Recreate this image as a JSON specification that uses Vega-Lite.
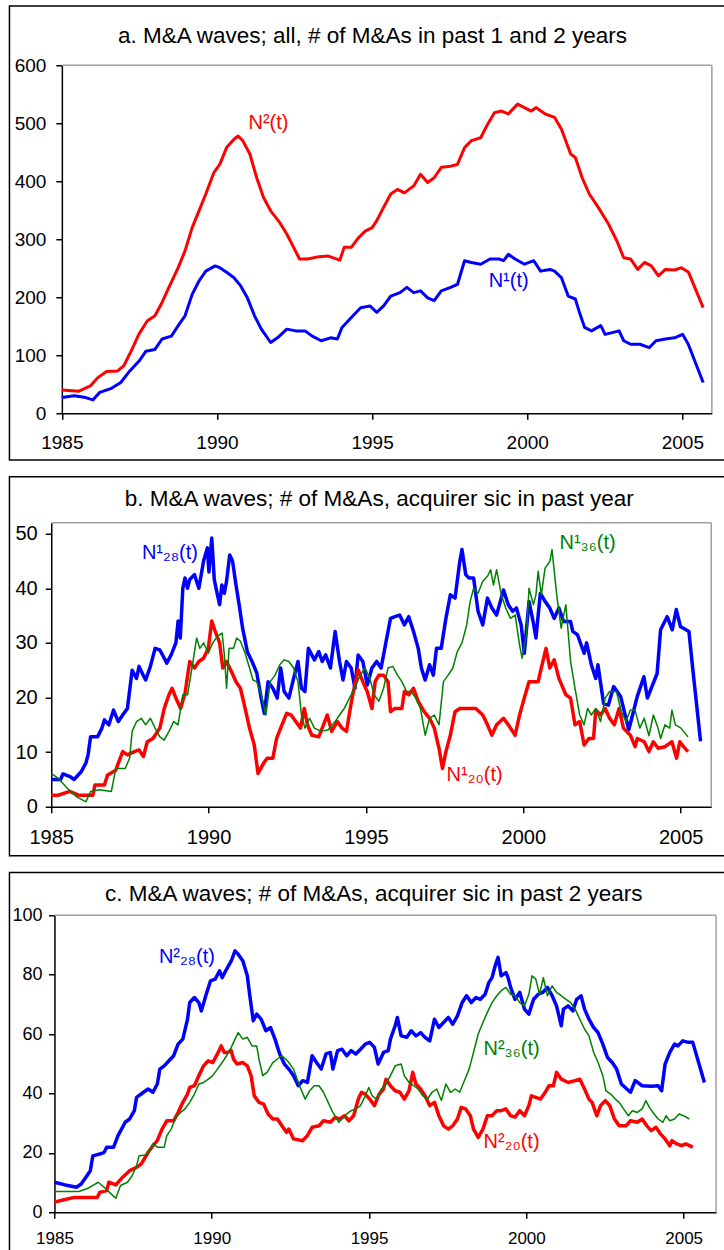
{
 "$schema": "https://vega.github.io/schema/vega-lite/v6.json",
 "padding": {"left": 8.25, "top": 4.25, "right": 0, "bottom": 0},
 "background": "white",
 "columns": 1,
 "align": "none",
 "spacing": 14.5,
 "config": {
  "font": "Liberation Sans",
  "view": {"stroke": null},
  "axis": {"grid": false, "domainColor": "#000", "domainWidth": 1.5, "tickColor": "#000", "tickWidth": 1.5, "tickSize": 6, "labelColor": "#000", "labelFont": "Liberation Sans", "labelFlush": false},
  "title": {"font": "Liberation Sans", "fontSize": 22.5, "fontWeight": "normal", "color": "#000"},
  "line": {"strokeJoin": "round"},
  "rule": {"color": "#a0a0a0", "strokeWidth": 1.5},
  "text": {"font": "Liberation Sans", "fontSize": 20, "align": "center", "baseline": "middle"}
 },
 "datasets": {
  "a_n2": [{"t":1985.0,"v":40},{"t":1985.55,"v":38},{"t":1985.92,"v":47},{"t":1986.15,"v":61},{"t":1986.44,"v":72},{"t":1986.8,"v":73},{"t":1987.0,"v":82},{"t":1987.26,"v":110},{"t":1987.48,"v":136},{"t":1987.75,"v":159},{"t":1988.0,"v":168},{"t":1988.23,"v":191},{"t":1988.45,"v":217},{"t":1988.75,"v":251},{"t":1988.97,"v":280},{"t":1989.2,"v":320},{"t":1989.42,"v":349},{"t":1989.64,"v":378},{"t":1989.9,"v":415},{"t":1990.09,"v":429},{"t":1990.31,"v":458},{"t":1990.54,"v":472},{"t":1990.68,"v":478},{"t":1990.83,"v":470},{"t":1991.06,"v":447},{"t":1991.28,"v":406},{"t":1991.5,"v":372},{"t":1991.73,"v":349},{"t":1992.02,"v":329},{"t":1992.25,"v":309},{"t":1992.47,"v":286},{"t":1992.66,"v":266},{"t":1992.92,"v":266},{"t":1993.29,"v":270},{"t":1993.59,"v":271},{"t":1993.96,"v":264},{"t":1994.1,"v":286},{"t":1994.33,"v":286},{"t":1994.55,"v":302},{"t":1994.78,"v":314},{"t":1995.0,"v":320},{"t":1995.15,"v":332},{"t":1995.37,"v":355},{"t":1995.6,"v":378},{"t":1995.82,"v":386},{"t":1996.04,"v":380},{"t":1996.34,"v":392},{"t":1996.56,"v":412},{"t":1996.79,"v":398},{"t":1997.0,"v":406},{"t":1997.23,"v":424},{"t":1997.53,"v":426},{"t":1997.75,"v":429},{"t":1997.98,"v":458},{"t":1998.2,"v":470},{"t":1998.5,"v":475},{"t":1998.72,"v":498},{"t":1998.94,"v":518},{"t":1999.17,"v":521},{"t":1999.39,"v":516},{"t":1999.69,"v":533},{"t":1999.91,"v":527},{"t":2000.13,"v":521},{"t":2000.28,"v":527},{"t":2000.58,"v":516},{"t":2000.88,"v":510},{"t":2001.1,"v":490},{"t":2001.4,"v":447},{"t":2001.55,"v":441},{"t":2001.77,"v":406},{"t":2002.0,"v":378},{"t":2002.29,"v":355},{"t":2002.59,"v":329},{"t":2002.89,"v":297},{"t":2003.11,"v":268},{"t":2003.33,"v":266},{"t":2003.56,"v":248},{"t":2003.78,"v":260},{"t":2004.0,"v":254},{"t":2004.23,"v":237},{"t":2004.45,"v":248},{"t":2004.75,"v":247},{"t":2004.97,"v":251},{"t":2005.2,"v":243},{"t":2005.67,"v":182}],
  "a_n1": [{"t":1985.0,"v":27},{"t":1985.4,"v":30},{"t":1985.77,"v":27},{"t":1986.0,"v":23},{"t":1986.22,"v":36},{"t":1986.6,"v":43},{"t":1986.9,"v":53},{"t":1987.19,"v":73},{"t":1987.49,"v":90},{"t":1987.71,"v":107},{"t":1988.0,"v":110},{"t":1988.23,"v":128},{"t":1988.53,"v":133},{"t":1988.75,"v":151},{"t":1988.97,"v":168},{"t":1989.2,"v":205},{"t":1989.42,"v":228},{"t":1989.64,"v":245},{"t":1989.94,"v":254},{"t":1990.09,"v":251},{"t":1990.31,"v":243},{"t":1990.54,"v":234},{"t":1990.76,"v":220},{"t":1990.98,"v":199},{"t":1991.21,"v":168},{"t":1991.43,"v":145},{"t":1991.73,"v":122},{"t":1991.95,"v":130},{"t":1992.25,"v":145},{"t":1992.54,"v":142},{"t":1992.84,"v":142},{"t":1993.07,"v":133},{"t":1993.36,"v":125},{"t":1993.66,"v":130},{"t":1993.88,"v":128},{"t":1994.03,"v":148},{"t":1994.33,"v":165},{"t":1994.63,"v":182},{"t":1994.93,"v":185},{"t":1995.15,"v":174},{"t":1995.37,"v":185},{"t":1995.6,"v":202},{"t":1995.9,"v":208},{"t":1996.12,"v":217},{"t":1996.34,"v":208},{"t":1996.56,"v":211},{"t":1996.79,"v":199},{"t":1997.0,"v":194},{"t":1997.23,"v":211},{"t":1997.53,"v":217},{"t":1997.75,"v":222},{"t":1997.98,"v":263},{"t":1998.2,"v":260},{"t":1998.5,"v":257},{"t":1998.8,"v":266},{"t":1999.09,"v":266},{"t":1999.24,"v":263},{"t":1999.39,"v":274},{"t":1999.61,"v":266},{"t":1999.91,"v":257},{"t":2000.21,"v":263},{"t":2000.43,"v":245},{"t":2000.73,"v":248},{"t":2000.88,"v":245},{"t":2001.1,"v":234},{"t":2001.32,"v":202},{"t":2001.55,"v":197},{"t":2001.7,"v":171},{"t":2001.85,"v":148},{"t":2002.07,"v":142},{"t":2002.37,"v":151},{"t":2002.51,"v":136},{"t":2002.74,"v":139},{"t":2002.96,"v":142},{"t":2003.11,"v":125},{"t":2003.33,"v":119},{"t":2003.63,"v":119},{"t":2003.93,"v":113},{"t":2004.15,"v":125},{"t":2004.45,"v":128},{"t":2004.75,"v":130},{"t":2005.01,"v":136},{"t":2005.19,"v":119},{"t":2005.67,"v":53}],
  "b_28": [{"t":1985.0,"v":5},{"t":1985.3,"v":5},{"t":1985.37,"v":6},{"t":1985.6,"v":5.5},{"t":1985.73,"v":5},{"t":1985.95,"v":6.4},{"t":1986.1,"v":8},{"t":1986.17,"v":9.5},{"t":1986.25,"v":12.8},{"t":1986.47,"v":12.8},{"t":1986.61,"v":14.4},{"t":1986.69,"v":15.9},{"t":1986.83,"v":15},{"t":1986.98,"v":17.7},{"t":1987.13,"v":15.6},{"t":1987.27,"v":16.8},{"t":1987.42,"v":18},{"t":1987.57,"v":25},{"t":1987.71,"v":23.5},{"t":1987.79,"v":25.7},{"t":1987.93,"v":24},{"t":1988.0,"v":23.2},{"t":1988.15,"v":25.7},{"t":1988.3,"v":29},{"t":1988.45,"v":28.7},{"t":1988.59,"v":27.2},{"t":1988.67,"v":26.3},{"t":1988.81,"v":27.8},{"t":1988.96,"v":30},{"t":1989.03,"v":34},{"t":1989.1,"v":30.9},{"t":1989.18,"v":40},{"t":1989.25,"v":41.9},{"t":1989.33,"v":40},{"t":1989.4,"v":41.6},{"t":1989.55,"v":42.5},{"t":1989.69,"v":40},{"t":1989.84,"v":45},{"t":1989.96,"v":47.4},{"t":1990.01,"v":43},{"t":1990.1,"v":49.2},{"t":1990.18,"v":41.6},{"t":1990.28,"v":38.8},{"t":1990.35,"v":37},{"t":1990.42,"v":40.6},{"t":1990.5,"v":39.1},{"t":1990.57,"v":41.3},{"t":1990.67,"v":46.1},{"t":1990.76,"v":45},{"t":1990.87,"v":40.6},{"t":1990.97,"v":37},{"t":1991.08,"v":32.7},{"t":1991.23,"v":28.4},{"t":1991.38,"v":26.6},{"t":1991.53,"v":24.5},{"t":1991.67,"v":19.9},{"t":1991.77,"v":17.1},{"t":1991.89,"v":22.9},{"t":1992.04,"v":21.7},{"t":1992.18,"v":19.9},{"t":1992.29,"v":25.4},{"t":1992.4,"v":21.1},{"t":1992.55,"v":19.9},{"t":1992.7,"v":23.5},{"t":1992.84,"v":26.6},{"t":1992.95,"v":21.7},{"t":1993.06,"v":21.1},{"t":1993.17,"v":29},{"t":1993.36,"v":26.9},{"t":1993.5,"v":28.4},{"t":1993.61,"v":26.6},{"t":1993.72,"v":27.8},{"t":1993.87,"v":25.4},{"t":1994.02,"v":32.1},{"t":1994.16,"v":26.6},{"t":1994.27,"v":23.2},{"t":1994.38,"v":26.6},{"t":1994.53,"v":25.4},{"t":1994.65,"v":21.7},{"t":1994.75,"v":27.8},{"t":1994.9,"v":26.6},{"t":1995.04,"v":22.3},{"t":1995.19,"v":25.4},{"t":1995.34,"v":26.6},{"t":1995.48,"v":25.4},{"t":1995.63,"v":30},{"t":1995.78,"v":34.5},{"t":1995.92,"v":34.8},{"t":1996.07,"v":35.1},{"t":1996.22,"v":33.3},{"t":1996.36,"v":34.8},{"t":1996.51,"v":32.1},{"t":1996.66,"v":29},{"t":1996.76,"v":25.4},{"t":1996.88,"v":23.2},{"t":1997.02,"v":26},{"t":1997.14,"v":24.1},{"t":1997.24,"v":29},{"t":1997.39,"v":29},{"t":1997.54,"v":34.5},{"t":1997.68,"v":38.8},{"t":1997.83,"v":38.2},{"t":1997.98,"v":44.9},{"t":1998.05,"v":47.1},{"t":1998.17,"v":42.5},{"t":1998.27,"v":41.9},{"t":1998.42,"v":41.9},{"t":1998.56,"v":35.8},{"t":1998.71,"v":33.3},{"t":1998.86,"v":38.2},{"t":1999.0,"v":36.4},{"t":1999.15,"v":35.1},{"t":1999.37,"v":39.7},{"t":1999.52,"v":37},{"t":1999.66,"v":35.8},{"t":1999.78,"v":36.4},{"t":1999.93,"v":33.3},{"t":2000.03,"v":28.1},{"t":2000.18,"v":37.6},{"t":2000.32,"v":33.6},{"t":2000.4,"v":30.9},{"t":2000.54,"v":39.1},{"t":2000.69,"v":37.6},{"t":2000.84,"v":36.4},{"t":2000.98,"v":34.5},{"t":2001.13,"v":36.4},{"t":2001.28,"v":33.9},{"t":2001.5,"v":33.9},{"t":2001.57,"v":32.1},{"t":2001.72,"v":31.5},{"t":2001.93,"v":28.1},{"t":2002.01,"v":30},{"t":2002.16,"v":26},{"t":2002.3,"v":23.5},{"t":2002.37,"v":26},{"t":2002.55,"v":18.9},{"t":2002.7,"v":18.6},{"t":2002.87,"v":22},{"t":2003.09,"v":20.2},{"t":2003.35,"v":14.1},{"t":2003.62,"v":20.2},{"t":2003.83,"v":23.8},{"t":2003.94,"v":19.9},{"t":2004.25,"v":24.4},{"t":2004.36,"v":32.4},{"t":2004.57,"v":34.8},{"t":2004.73,"v":32.4},{"t":2004.86,"v":36.1},{"t":2004.99,"v":33},{"t":2005.26,"v":32.1},{"t":2005.38,"v":25.4},{"t":2005.63,"v":12}],
  "b_20": [{"t":1985.0,"v":2.1},{"t":1985.22,"v":2.1},{"t":1985.59,"v":2.8},{"t":1985.88,"v":2.1},{"t":1986.32,"v":2.1},{"t":1986.39,"v":4},{"t":1986.69,"v":4},{"t":1986.79,"v":5.8},{"t":1987.05,"v":6.7},{"t":1987.17,"v":8.6},{"t":1987.27,"v":10.1},{"t":1987.42,"v":9.5},{"t":1987.64,"v":10.1},{"t":1987.79,"v":10.4},{"t":1987.93,"v":9.2},{"t":1988.05,"v":11.9},{"t":1988.23,"v":12.5},{"t":1988.45,"v":14.4},{"t":1988.59,"v":18},{"t":1988.74,"v":20.5},{"t":1988.84,"v":21.7},{"t":1988.96,"v":19.9},{"t":1989.11,"v":18},{"t":1989.25,"v":20.8},{"t":1989.4,"v":26.6},{"t":1989.55,"v":25.4},{"t":1989.69,"v":26.6},{"t":1989.84,"v":27.2},{"t":1989.99,"v":29},{"t":1990.1,"v":34},{"t":1990.21,"v":32.1},{"t":1990.35,"v":30},{"t":1990.45,"v":25.4},{"t":1990.57,"v":26.6},{"t":1990.72,"v":24.8},{"t":1990.87,"v":22.9},{"t":1991.01,"v":21.7},{"t":1991.16,"v":18},{"t":1991.3,"v":14.4},{"t":1991.45,"v":11.3},{"t":1991.57,"v":6.1},{"t":1991.74,"v":7.9},{"t":1991.86,"v":8.9},{"t":1992.04,"v":8.9},{"t":1992.16,"v":12.5},{"t":1992.33,"v":15},{"t":1992.48,"v":17.1},{"t":1992.62,"v":16.8},{"t":1992.77,"v":15.6},{"t":1992.92,"v":14.4},{"t":1993.04,"v":18},{"t":1993.14,"v":15},{"t":1993.28,"v":13.1},{"t":1993.5,"v":12.8},{"t":1993.65,"v":15},{"t":1993.77,"v":16.8},{"t":1993.91,"v":13.8},{"t":1994.09,"v":15.6},{"t":1994.24,"v":14.4},{"t":1994.38,"v":13.8},{"t":1994.5,"v":18},{"t":1994.6,"v":21.1},{"t":1994.75,"v":25.1},{"t":1994.9,"v":22.9},{"t":1995.04,"v":21.1},{"t":1995.19,"v":18},{"t":1995.29,"v":22.9},{"t":1995.41,"v":24.1},{"t":1995.56,"v":24.1},{"t":1995.7,"v":22.9},{"t":1995.78,"v":17.4},{"t":1995.92,"v":18},{"t":1996.14,"v":18},{"t":1996.22,"v":21.1},{"t":1996.36,"v":20.5},{"t":1996.51,"v":21.7},{"t":1996.66,"v":19.3},{"t":1996.85,"v":17.4},{"t":1997.02,"v":16.2},{"t":1997.17,"v":14.4},{"t":1997.32,"v":10.7},{"t":1997.43,"v":7},{"t":1997.54,"v":10.1},{"t":1997.68,"v":13.1},{"t":1997.83,"v":17.4},{"t":1997.98,"v":18},{"t":1998.49,"v":18},{"t":1998.71,"v":16.8},{"t":1998.86,"v":15},{"t":1999.0,"v":13.1},{"t":1999.15,"v":15},{"t":1999.37,"v":16.2},{"t":1999.52,"v":15},{"t":1999.74,"v":13.1},{"t":1999.88,"v":16.8},{"t":2000.03,"v":19.9},{"t":2000.18,"v":22.9},{"t":2000.47,"v":22.9},{"t":2000.62,"v":26.6},{"t":2000.72,"v":29},{"t":2000.84,"v":25.4},{"t":2000.98,"v":26.9},{"t":2001.13,"v":23.5},{"t":2001.35,"v":20.5},{"t":2001.5,"v":19.9},{"t":2001.64,"v":15},{"t":2001.79,"v":15.6},{"t":2001.93,"v":11.3},{"t":2002.08,"v":12.5},{"t":2002.23,"v":12.5},{"t":2002.3,"v":17.7},{"t":2002.45,"v":16.8},{"t":2002.6,"v":18},{"t":2002.74,"v":16.2},{"t":2002.89,"v":15},{"t":2003.04,"v":18},{"t":2003.18,"v":14.4},{"t":2003.4,"v":13.1},{"t":2003.55,"v":11},{"t":2003.62,"v":12.5},{"t":2003.84,"v":11.9},{"t":2003.99,"v":10.1},{"t":2004.13,"v":11.9},{"t":2004.28,"v":10.7},{"t":2004.5,"v":11},{"t":2004.72,"v":11.9},{"t":2004.87,"v":8.9},{"t":2004.97,"v":11.9},{"t":2005.09,"v":11},{"t":2005.23,"v":10.1}],
  "b_36": [{"t":1985.0,"v":6.1},{"t":1985.22,"v":5.2},{"t":1985.51,"v":3.4},{"t":1985.81,"v":1.8},{"t":1986.1,"v":0.9},{"t":1986.25,"v":2.8},{"t":1986.54,"v":3.1},{"t":1986.91,"v":2.8},{"t":1987.05,"v":7},{"t":1987.35,"v":7},{"t":1987.49,"v":8.9},{"t":1987.57,"v":13.8},{"t":1987.71,"v":15.6},{"t":1987.86,"v":16.2},{"t":1988.0,"v":15},{"t":1988.15,"v":16.2},{"t":1988.3,"v":14.4},{"t":1988.45,"v":12.8},{"t":1988.59,"v":12.2},{"t":1988.74,"v":13.8},{"t":1988.89,"v":15.6},{"t":1989.03,"v":15},{"t":1989.18,"v":20.5},{"t":1989.33,"v":20.5},{"t":1989.47,"v":25.4},{"t":1989.62,"v":30.9},{"t":1989.72,"v":29},{"t":1989.84,"v":30},{"t":1989.99,"v":28.1},{"t":1990.13,"v":30},{"t":1990.28,"v":31.2},{"t":1990.43,"v":31.8},{"t":1990.5,"v":27.8},{"t":1990.57,"v":21.7},{"t":1990.65,"v":29},{"t":1990.79,"v":29},{"t":1990.89,"v":30.9},{"t":1991.01,"v":30.3},{"t":1991.16,"v":28.1},{"t":1991.3,"v":25.4},{"t":1991.41,"v":23.2},{"t":1991.53,"v":22.9},{"t":1991.67,"v":20.5},{"t":1991.82,"v":16.8},{"t":1991.96,"v":22.9},{"t":1992.11,"v":24.1},{"t":1992.26,"v":26},{"t":1992.4,"v":26.9},{"t":1992.55,"v":26.6},{"t":1992.7,"v":25.4},{"t":1992.84,"v":22.9},{"t":1992.95,"v":16.8},{"t":1993.06,"v":14.4},{"t":1993.21,"v":16.2},{"t":1993.36,"v":14.4},{"t":1993.58,"v":13.8},{"t":1993.8,"v":14.1},{"t":1994.02,"v":15.6},{"t":1994.16,"v":16.8},{"t":1994.31,"v":18},{"t":1994.53,"v":20.5},{"t":1994.68,"v":22.3},{"t":1994.82,"v":24.1},{"t":1994.97,"v":25.4},{"t":1995.12,"v":23.5},{"t":1995.26,"v":20.5},{"t":1995.41,"v":19.3},{"t":1995.56,"v":21.7},{"t":1995.7,"v":25.4},{"t":1995.85,"v":25.7},{"t":1996.0,"v":24.1},{"t":1996.14,"v":22.9},{"t":1996.29,"v":21.1},{"t":1996.44,"v":21.1},{"t":1996.58,"v":19.9},{"t":1996.73,"v":18},{"t":1996.88,"v":13.1},{"t":1997.02,"v":16.2},{"t":1997.17,"v":16.8},{"t":1997.32,"v":15},{"t":1997.46,"v":22.9},{"t":1997.61,"v":24.1},{"t":1997.76,"v":25.4},{"t":1997.9,"v":28.4},{"t":1998.05,"v":30},{"t":1998.2,"v":33.3},{"t":1998.31,"v":37.6},{"t":1998.42,"v":40},{"t":1998.56,"v":39.1},{"t":1998.71,"v":41.3},{"t":1998.86,"v":42.2},{"t":1998.96,"v":43.4},{"t":1999.05,"v":40.6},{"t":1999.15,"v":43.4},{"t":1999.3,"v":38.8},{"t":1999.44,"v":36.4},{"t":1999.59,"v":34.5},{"t":1999.74,"v":35.1},{"t":1999.88,"v":29.6},{"t":1999.96,"v":27.2},{"t":2000.1,"v":31.5},{"t":2000.18,"v":40},{"t":2000.32,"v":37},{"t":2000.4,"v":38.8},{"t":2000.47,"v":43.1},{"t":2000.57,"v":38.8},{"t":2000.69,"v":43.7},{"t":2000.84,"v":44.9},{"t":2000.91,"v":47.1},{"t":2001.06,"v":38.8},{"t":2001.2,"v":32.7},{"t":2001.35,"v":37},{"t":2001.5,"v":26.6},{"t":2001.64,"v":21.7},{"t":2001.79,"v":16.8},{"t":2001.93,"v":15},{"t":2002.04,"v":18},{"t":2002.16,"v":16.8},{"t":2002.3,"v":18},{"t":2002.45,"v":15.6},{"t":2002.6,"v":19.9},{"t":2002.74,"v":21.1},{"t":2002.96,"v":21.1},{"t":2003.11,"v":17.4},{"t":2003.26,"v":15.6},{"t":2003.4,"v":17.7},{"t":2003.55,"v":17.7},{"t":2003.7,"v":14.4},{"t":2003.84,"v":16.2},{"t":2003.99,"v":13},{"t":2004.13,"v":16.8},{"t":2004.28,"v":14.4},{"t":2004.36,"v":12.5},{"t":2004.5,"v":15},{"t":2004.65,"v":14.4},{"t":2004.72,"v":17.7},{"t":2004.83,"v":15},{"t":2005.01,"v":14.4},{"t":2005.23,"v":12.8}],
  "c_28": [{"t":1985.0,"v":10.1},{"t":1985.34,"v":9.2},{"t":1985.7,"v":8.4},{"t":1985.85,"v":9.5},{"t":1986.0,"v":11.8},{"t":1986.14,"v":14},{"t":1986.22,"v":19},{"t":1986.44,"v":19.6},{"t":1986.58,"v":20.2},{"t":1986.66,"v":21.9},{"t":1986.88,"v":21.9},{"t":1987.02,"v":25.8},{"t":1987.25,"v":30.3},{"t":1987.39,"v":31.4},{"t":1987.54,"v":34.2},{"t":1987.61,"v":38.7},{"t":1987.83,"v":40.4},{"t":1987.98,"v":41.5},{"t":1988.13,"v":40.4},{"t":1988.27,"v":43.2},{"t":1988.35,"v":48.2},{"t":1988.49,"v":49.3},{"t":1988.64,"v":51},{"t":1988.79,"v":52.7},{"t":1988.93,"v":56.6},{"t":1989.08,"v":58.3},{"t":1989.23,"v":65},{"t":1989.3,"v":70.6},{"t":1989.45,"v":72.3},{"t":1989.59,"v":70.6},{"t":1989.67,"v":67.8},{"t":1989.81,"v":72.9},{"t":1989.96,"v":77.9},{"t":1990.11,"v":78.5},{"t":1990.25,"v":81.3},{"t":1990.33,"v":79},{"t":1990.47,"v":81.8},{"t":1990.62,"v":84.6},{"t":1990.74,"v":88},{"t":1990.84,"v":86.9},{"t":1990.99,"v":84.6},{"t":1991.13,"v":79.6},{"t":1991.21,"v":72.9},{"t":1991.32,"v":64.5},{"t":1991.43,"v":66.7},{"t":1991.57,"v":65},{"t":1991.72,"v":61.1},{"t":1991.87,"v":62.2},{"t":1992.01,"v":58.3},{"t":1992.16,"v":53.3},{"t":1992.31,"v":49.9},{"t":1992.45,"v":48.2},{"t":1992.6,"v":46},{"t":1992.75,"v":42.6},{"t":1992.89,"v":44.3},{"t":1993.04,"v":43.7},{"t":1993.19,"v":52.7},{"t":1993.33,"v":50.4},{"t":1993.48,"v":48.2},{"t":1993.63,"v":53.3},{"t":1993.77,"v":53.8},{"t":1993.85,"v":48.2},{"t":1994.0,"v":54.4},{"t":1994.14,"v":54.9},{"t":1994.29,"v":52.7},{"t":1994.43,"v":54.4},{"t":1994.58,"v":53.3},{"t":1994.73,"v":54.9},{"t":1994.88,"v":56.6},{"t":1995.02,"v":57.2},{"t":1995.17,"v":55.5},{"t":1995.29,"v":49.9},{"t":1995.46,"v":53.8},{"t":1995.61,"v":54.4},{"t":1995.68,"v":58.3},{"t":1995.83,"v":62.8},{"t":1995.9,"v":65.6},{"t":1996.02,"v":59.4},{"t":1996.2,"v":58.9},{"t":1996.34,"v":61.1},{"t":1996.49,"v":59.4},{"t":1996.64,"v":60.5},{"t":1996.78,"v":58.9},{"t":1996.93,"v":57.7},{"t":1997.08,"v":65},{"t":1997.22,"v":62.2},{"t":1997.37,"v":63.9},{"t":1997.52,"v":65.6},{"t":1997.66,"v":63.3},{"t":1997.81,"v":66.1},{"t":1997.96,"v":70.6},{"t":1998.1,"v":72.9},{"t":1998.25,"v":70.6},{"t":1998.4,"v":72.3},{"t":1998.54,"v":71.7},{"t":1998.69,"v":73.4},{"t":1998.81,"v":77.4},{"t":1998.91,"v":79},{"t":1999.01,"v":83},{"t":1999.1,"v":85.8},{"t":1999.2,"v":79.6},{"t":1999.35,"v":80.7},{"t":1999.42,"v":79},{"t":1999.5,"v":75.7},{"t":1999.64,"v":71.7},{"t":1999.79,"v":74},{"t":1999.94,"v":68.4},{"t":2000.08,"v":66.7},{"t":2000.23,"v":71.7},{"t":2000.38,"v":73.4},{"t":2000.52,"v":74},{"t":2000.67,"v":75.7},{"t":2000.82,"v":72.9},{"t":2000.96,"v":69.5},{"t":2001.11,"v":62.8},{"t":2001.18,"v":68.4},{"t":2001.33,"v":69.5},{"t":2001.48,"v":67.8},{"t":2001.6,"v":71.7},{"t":2001.74,"v":72.9},{"t":2001.85,"v":68.4},{"t":2001.99,"v":65},{"t":2002.14,"v":62.2},{"t":2002.28,"v":60.5},{"t":2002.43,"v":56.6},{"t":2002.58,"v":52.1},{"t":2002.73,"v":50.4},{"t":2002.87,"v":48.2},{"t":2003.02,"v":43.2},{"t":2003.31,"v":40.4},{"t":2003.46,"v":44.3},{"t":2003.68,"v":42.6},{"t":2003.97,"v":42.4},{"t":2004.19,"v":42.6},{"t":2004.3,"v":40.9},{"t":2004.41,"v":49.9},{"t":2004.56,"v":53.8},{"t":2004.71,"v":56.6},{"t":2004.82,"v":56},{"t":2004.97,"v":57.7},{"t":2005.15,"v":57.2},{"t":2005.29,"v":57.2},{"t":2005.66,"v":43.7}],
  "c_20": [{"t":1985.0,"v":3.4},{"t":1985.34,"v":4.3},{"t":1985.63,"v":5},{"t":1986.07,"v":5},{"t":1986.36,"v":5},{"t":1986.44,"v":6.7},{"t":1986.66,"v":7.3},{"t":1986.73,"v":10.1},{"t":1986.95,"v":9.2},{"t":1987.17,"v":11.8},{"t":1987.39,"v":14},{"t":1987.61,"v":15.1},{"t":1987.76,"v":16.3},{"t":1987.98,"v":20.2},{"t":1988.13,"v":22.4},{"t":1988.27,"v":24.1},{"t":1988.42,"v":28},{"t":1988.57,"v":30.8},{"t":1988.79,"v":30.8},{"t":1988.93,"v":33.6},{"t":1989.08,"v":37},{"t":1989.23,"v":39.8},{"t":1989.3,"v":42},{"t":1989.45,"v":42.6},{"t":1989.59,"v":46},{"t":1989.74,"v":49.3},{"t":1989.89,"v":51},{"t":1990.03,"v":50.4},{"t":1990.18,"v":53.3},{"t":1990.3,"v":56},{"t":1990.4,"v":53.8},{"t":1990.5,"v":53.8},{"t":1990.62,"v":54.4},{"t":1990.69,"v":51.6},{"t":1990.8,"v":49.9},{"t":1990.99,"v":50.4},{"t":1991.13,"v":49.3},{"t":1991.25,"v":46},{"t":1991.35,"v":39.2},{"t":1991.5,"v":37},{"t":1991.65,"v":36.4},{"t":1991.79,"v":33.1},{"t":1991.94,"v":31.4},{"t":1992.09,"v":31.4},{"t":1992.23,"v":29.1},{"t":1992.38,"v":26.9},{"t":1992.45,"v":28},{"t":1992.6,"v":24.7},{"t":1992.89,"v":24.1},{"t":1993.04,"v":25.8},{"t":1993.19,"v":28.6},{"t":1993.41,"v":29.1},{"t":1993.55,"v":30.8},{"t":1993.77,"v":30.3},{"t":1993.92,"v":31.9},{"t":1994.07,"v":31.4},{"t":1994.22,"v":32.5},{"t":1994.36,"v":30.8},{"t":1994.51,"v":32.5},{"t":1994.66,"v":38.1},{"t":1994.76,"v":40.4},{"t":1994.88,"v":39.8},{"t":1995.02,"v":38.1},{"t":1995.17,"v":35.9},{"t":1995.32,"v":39.8},{"t":1995.46,"v":41.5},{"t":1995.54,"v":44.8},{"t":1995.68,"v":42.6},{"t":1995.83,"v":40.9},{"t":1995.98,"v":40.4},{"t":1996.12,"v":38.1},{"t":1996.27,"v":40.9},{"t":1996.39,"v":47.1},{"t":1996.49,"v":43.2},{"t":1996.64,"v":41.5},{"t":1996.78,"v":39.2},{"t":1996.93,"v":35.9},{"t":1997.08,"v":37},{"t":1997.22,"v":32.5},{"t":1997.37,"v":29.1},{"t":1997.52,"v":28},{"t":1997.66,"v":29.1},{"t":1997.81,"v":31.4},{"t":1997.93,"v":35.3},{"t":1998.07,"v":34.8},{"t":1998.22,"v":32.5},{"t":1998.32,"v":28},{"t":1998.47,"v":25.2},{"t":1998.62,"v":28},{"t":1998.76,"v":32.5},{"t":1998.91,"v":32.5},{"t":1999.06,"v":34.2},{"t":1999.2,"v":34.2},{"t":1999.35,"v":34.8},{"t":1999.5,"v":32.5},{"t":1999.64,"v":32},{"t":1999.79,"v":34.2},{"t":1999.94,"v":32.5},{"t":2000.08,"v":35.9},{"t":2000.16,"v":39.2},{"t":2000.3,"v":38.7},{"t":2000.45,"v":38.1},{"t":2000.6,"v":40.4},{"t":2000.72,"v":42.6},{"t":2000.86,"v":42.6},{"t":2000.96,"v":47.1},{"t":2001.11,"v":44.8},{"t":2001.33,"v":43.7},{"t":2001.55,"v":44.3},{"t":2001.7,"v":44.8},{"t":2001.85,"v":41.5},{"t":2001.99,"v":38.1},{"t":2002.09,"v":37},{"t":2002.24,"v":32.5},{"t":2002.36,"v":35.9},{"t":2002.51,"v":37.6},{"t":2002.65,"v":35.9},{"t":2002.8,"v":31.4},{"t":2002.95,"v":29.1},{"t":2003.17,"v":29.1},{"t":2003.31,"v":30.8},{"t":2003.53,"v":30.3},{"t":2003.68,"v":31.4},{"t":2003.83,"v":29.1},{"t":2003.97,"v":27.5},{"t":2004.12,"v":28.6},{"t":2004.27,"v":26.3},{"t":2004.41,"v":24.7},{"t":2004.56,"v":22.4},{"t":2004.63,"v":24.1},{"t":2004.78,"v":23},{"t":2004.93,"v":22.4},{"t":2005.07,"v":23},{"t":2005.29,"v":21.9}],
  "c_36": [{"t":1985.0,"v":7},{"t":1985.34,"v":7},{"t":1985.78,"v":7},{"t":1986.07,"v":8.1},{"t":1986.29,"v":9.5},{"t":1986.39,"v":10.1},{"t":1986.58,"v":8.4},{"t":1986.8,"v":6.2},{"t":1986.95,"v":4.7},{"t":1987.1,"v":9},{"t":1987.32,"v":10.1},{"t":1987.47,"v":12.3},{"t":1987.61,"v":15.7},{"t":1987.69,"v":19},{"t":1987.91,"v":19.3},{"t":1988.05,"v":21.3},{"t":1988.13,"v":23},{"t":1988.27,"v":21.9},{"t":1988.49,"v":21.9},{"t":1988.57,"v":25.8},{"t":1988.71,"v":28},{"t":1988.86,"v":32},{"t":1989.01,"v":33.6},{"t":1989.15,"v":34.8},{"t":1989.3,"v":37},{"t":1989.45,"v":39.8},{"t":1989.59,"v":43.2},{"t":1989.74,"v":43.7},{"t":1989.89,"v":44.8},{"t":1990.03,"v":46},{"t":1990.18,"v":48.2},{"t":1990.33,"v":50.4},{"t":1990.47,"v":52.7},{"t":1990.62,"v":55.5},{"t":1990.74,"v":58.3},{"t":1990.84,"v":60.5},{"t":1990.99,"v":58.3},{"t":1991.13,"v":58.9},{"t":1991.28,"v":56},{"t":1991.43,"v":56},{"t":1991.5,"v":51.6},{"t":1991.62,"v":46},{"t":1991.76,"v":47.1},{"t":1991.94,"v":50.4},{"t":1992.09,"v":51.6},{"t":1992.23,"v":52.7},{"t":1992.35,"v":51.6},{"t":1992.45,"v":50.4},{"t":1992.6,"v":48.2},{"t":1992.79,"v":42.6},{"t":1992.97,"v":38.1},{"t":1993.11,"v":40.9},{"t":1993.26,"v":42.6},{"t":1993.41,"v":42.6},{"t":1993.55,"v":40.4},{"t":1993.7,"v":37},{"t":1993.85,"v":33.6},{"t":1994.04,"v":30.3},{"t":1994.14,"v":31.4},{"t":1994.29,"v":33.1},{"t":1994.43,"v":34.2},{"t":1994.58,"v":34.8},{"t":1994.73,"v":35.9},{"t":1994.88,"v":39.2},{"t":1994.99,"v":42},{"t":1995.1,"v":39.2},{"t":1995.24,"v":38.1},{"t":1995.39,"v":41.5},{"t":1995.54,"v":43.2},{"t":1995.68,"v":46},{"t":1995.83,"v":49.3},{"t":1996.02,"v":49.9},{"t":1996.12,"v":46},{"t":1996.27,"v":43.7},{"t":1996.42,"v":42.6},{"t":1996.56,"v":41.5},{"t":1996.71,"v":39.2},{"t":1996.86,"v":38.1},{"t":1997.0,"v":40.4},{"t":1997.15,"v":41.5},{"t":1997.3,"v":37.6},{"t":1997.44,"v":43.2},{"t":1997.59,"v":40.4},{"t":1997.74,"v":41.5},{"t":1997.88,"v":40.4},{"t":1998.03,"v":44.3},{"t":1998.18,"v":48.2},{"t":1998.32,"v":53.8},{"t":1998.47,"v":60},{"t":1998.62,"v":63.9},{"t":1998.76,"v":67.3},{"t":1998.91,"v":70.6},{"t":1999.06,"v":72.9},{"t":1999.2,"v":74.6},{"t":1999.35,"v":75.7},{"t":1999.5,"v":73.4},{"t":1999.64,"v":72.9},{"t":1999.79,"v":70.6},{"t":1999.94,"v":69.5},{"t":2000.08,"v":73.4},{"t":2000.18,"v":79.6},{"t":2000.3,"v":78.5},{"t":2000.42,"v":73.4},{"t":2000.54,"v":79},{"t":2000.67,"v":72.9},{"t":2000.82,"v":76.2},{"t":2000.96,"v":74},{"t":2001.11,"v":72.9},{"t":2001.26,"v":71.7},{"t":2001.41,"v":70.6},{"t":2001.55,"v":68.4},{"t":2001.7,"v":65},{"t":2001.85,"v":61.7},{"t":2001.99,"v":59.4},{"t":2002.14,"v":53.8},{"t":2002.28,"v":50.4},{"t":2002.43,"v":46},{"t":2002.53,"v":40.9},{"t":2002.68,"v":39.8},{"t":2002.83,"v":38.1},{"t":2002.95,"v":37},{"t":2003.09,"v":34.8},{"t":2003.24,"v":32.5},{"t":2003.37,"v":34.2},{"t":2003.53,"v":33.6},{"t":2003.68,"v":34.8},{"t":2003.8,"v":37.6},{"t":2003.91,"v":35.3},{"t":2004.06,"v":33.1},{"t":2004.19,"v":31.4},{"t":2004.34,"v":30.3},{"t":2004.44,"v":32.5},{"t":2004.56,"v":30.8},{"t":2004.71,"v":31.4},{"t":2004.85,"v":33.1},{"t":2005.0,"v":32.5},{"t":2005.18,"v":31.4}]
 },
 "concat": [
  {
   "width": 661, "height": 348,
   "title": {"text": "a. M&A waves; all, # of M&As in past 1 and 2 years", "frame": "group", "anchor": "middle", "offset": -60, "dx": -9.3, "baseline": "alphabetic"},
   "layer": [
    {"data": {"values": [{}]}, "mark": {"type": "rect", "fillOpacity": 0, "stroke": "#000", "strokeWidth": 1.5},
     "encoding": {"x": {"datum": 1983.311, "type": "quantitative", "scale": {"domain": [1985, 2005.95], "range": [10.6, 660.6], "nice": false, "zero": false}, "axis": {"title": null, "values": [1985, 1990, 1995, 2000, 2005], "format": "d", "labelFontSize": 19, "labelPadding": 14}}, "x2": {"datum": 2006.6}, "y": {"datum": 702.2, "type": "quantitative", "scale": {"domain": [0, 600], "nice": false}, "axis": {"title": null, "values": [0, 100, 200, 300, 400, 500, 600], "labelFontSize": 19, "labelPadding": 10, "offset": -10.6}}, "y2": {"datum": -80.5}}},
    {"data": {"values": [{}]}, "mark": {"type": "rule"},
     "encoding": {"x": {"datum": 1985, "type": "quantitative"}, "x2": {"datum": 2005.95}, "y": {"datum": 600, "type": "quantitative"}}},
    {"data": {"values": [{}]}, "mark": {"type": "rule"},
     "encoding": {"x": {"datum": 2005.95, "type": "quantitative"}, "y": {"datum": 0, "type": "quantitative"}, "y2": {"datum": 600}}},
    {"data": {"name": "a_n2"}, "mark": {"type": "line", "color": "#ff0000", "strokeWidth": 3},
     "encoding": {"x": {"field": "t", "type": "quantitative"}, "y": {"field": "v", "type": "quantitative"}}},
    {"data": {"name": "a_n1"}, "mark": {"type": "line", "color": "#0000ff", "strokeWidth": 3},
     "encoding": {"x": {"field": "t", "type": "quantitative"}, "y": {"field": "v", "type": "quantitative"}}},
    {"data": {"values": [{"t": 1991.66, "v": 501, "label": "N²(t)"}]}, "mark": {"type": "text", "color": "#ff0000"},
     "encoding": {"x": {"field": "t", "type": "quantitative"}, "y": {"field": "v", "type": "quantitative"}, "text": {"field": "label"}}},
    {"data": {"values": [{"t": 1999.4, "v": 228, "label": "N¹(t)"}]}, "mark": {"type": "text", "color": "#0000ff"},
     "encoding": {"x": {"field": "t", "type": "quantitative"}, "y": {"field": "v", "type": "quantitative"}, "text": {"field": "label"}}}
   ]
  },
  {
   "width": 660, "height": 284,
   "title": {"text": "b. M&A waves; # of M&As, acquirer sic in past year", "frame": "group", "anchor": "middle", "offset": -52.5, "dx": -2, "baseline": "alphabetic"},
   "layer": [
    {"data": {"values": [{}]}, "mark": {"type": "rect", "fillOpacity": 0, "stroke": "#000", "strokeWidth": 1.5},
     "encoding": {"x": {"datum": 1983.672, "type": "quantitative", "scale": {"domain": [1985, 2005.97], "range": [0, 660], "nice": false, "zero": false}, "axis": {"title": null, "values": [1985, 1990, 1995, 2000, 2005], "format": "d", "labelFontSize": 20, "labelPadding": 15}}, "x2": {"datum": 2006.6}, "y": {"datum": 60.42, "type": "quantitative", "scale": {"domain": [0, 52], "nice": false}, "axis": {"title": null, "values": [0, 10, 20, 30, 40, 50], "labelFontSize": 20, "labelPadding": 8}}, "y2": {"datum": -8.97}}},
    {"data": {"values": [{}]}, "mark": {"type": "rule"},
     "encoding": {"x": {"datum": 1985, "type": "quantitative"}, "x2": {"datum": 2005.97}, "y": {"datum": 52, "type": "quantitative"}}},
    {"data": {"values": [{}]}, "mark": {"type": "rule"},
     "encoding": {"x": {"datum": 2005.97, "type": "quantitative"}, "y": {"datum": 0, "type": "quantitative"}, "y2": {"datum": 52}}},
    {"data": {"name": "b_28"}, "mark": {"type": "line", "color": "#0000ff", "strokeWidth": 3.5},
     "encoding": {"x": {"field": "t", "type": "quantitative"}, "y": {"field": "v", "type": "quantitative"}}},
    {"data": {"name": "b_20"}, "mark": {"type": "line", "color": "#ff0000", "strokeWidth": 3.5},
     "encoding": {"x": {"field": "t", "type": "quantitative"}, "y": {"field": "v", "type": "quantitative"}}},
    {"data": {"name": "b_36"}, "mark": {"type": "line", "color": "#008000", "strokeWidth": 1.5},
     "encoding": {"x": {"field": "t", "type": "quantitative"}, "y": {"field": "v", "type": "quantitative"}}},
    {"data": {"values": [{"t": 1988.77, "v": 46.4, "label": "N¹₂₈(t)"}]}, "mark": {"type": "text", "color": "#0000ff"},
     "encoding": {"x": {"field": "t", "type": "quantitative"}, "y": {"field": "v", "type": "quantitative"}, "text": {"field": "label"}}},
    {"data": {"values": [{"t": 2002.04, "v": 48.3, "label": "N¹₃₆(t)"}]}, "mark": {"type": "text", "color": "#008000"},
     "encoding": {"x": {"field": "t", "type": "quantitative"}, "y": {"field": "v", "type": "quantitative"}, "text": {"field": "label"}}},
    {"data": {"values": [{"t": 1998.45, "v": 5.8, "label": "N¹₂₀(t)"}]}, "mark": {"type": "text", "color": "#ff0000"},
     "encoding": {"x": {"field": "t", "type": "quantitative"}, "y": {"field": "v", "type": "quantitative"}, "text": {"field": "label"}}}
   ]
  },
  {
   "width": 665, "height": 297,
   "title": {"text": "c. M&A waves; # of M&As, acquirer sic in past 2 years", "frame": "group", "anchor": "middle", "offset": -52, "dx": -10, "baseline": "alphabetic"},
   "layer": [
    {"data": {"values": [{}]}, "mark": {"type": "rect", "fillOpacity": 0, "stroke": "#000", "strokeWidth": 1.5},
     "encoding": {"x": {"datum": 1983.57, "type": "quantitative", "scale": {"domain": [1985, 2006.03], "range": [3.2, 664.8], "nice": false, "zero": false}, "axis": {"title": null, "values": [1985, 1990, 1995, 2000, 2005], "format": "d", "labelFontSize": 17, "labelPadding": 12}}, "x2": {"datum": 2006.6}, "y": {"datum": 114.36, "type": "quantitative", "scale": {"domain": [0, 100], "nice": false}, "axis": {"title": null, "values": [0, 20, 40, 60, 80, 100], "labelFontSize": 18, "labelPadding": 6.5, "offset": -3.2}}, "y2": {"datum": -17.5}}},
    {"data": {"values": [{}]}, "mark": {"type": "rule"},
     "encoding": {"x": {"datum": 1985, "type": "quantitative"}, "x2": {"datum": 2006.03}, "y": {"datum": 100, "type": "quantitative"}}},
    {"data": {"values": [{}]}, "mark": {"type": "rule"},
     "encoding": {"x": {"datum": 2006.03, "type": "quantitative"}, "y": {"datum": 0, "type": "quantitative"}, "y2": {"datum": 100}}},
    {"data": {"name": "c_28"}, "mark": {"type": "line", "color": "#0000ff", "strokeWidth": 3.5},
     "encoding": {"x": {"field": "t", "type": "quantitative"}, "y": {"field": "v", "type": "quantitative"}}},
    {"data": {"name": "c_20"}, "mark": {"type": "line", "color": "#ff0000", "strokeWidth": 3.5},
     "encoding": {"x": {"field": "t", "type": "quantitative"}, "y": {"field": "v", "type": "quantitative"}}},
    {"data": {"name": "c_36"}, "mark": {"type": "line", "color": "#008000", "strokeWidth": 1.5},
     "encoding": {"x": {"field": "t", "type": "quantitative"}, "y": {"field": "v", "type": "quantitative"}}},
    {"data": {"values": [{"t": 1989.21, "v": 85.8, "label": "N²₂₈(t)"}]}, "mark": {"type": "text", "color": "#0000ff"},
     "encoding": {"x": {"field": "t", "type": "quantitative"}, "y": {"field": "v", "type": "quantitative"}, "text": {"field": "label"}}},
    {"data": {"values": [{"t": 1999.53, "v": 54.9, "label": "N²₃₆(t)"}]}, "mark": {"type": "text", "color": "#008000"},
     "encoding": {"x": {"field": "t", "type": "quantitative"}, "y": {"field": "v", "type": "quantitative"}, "text": {"field": "label"}}},
    {"data": {"values": [{"t": 1999.53, "v": 23.5, "label": "N²₂₀(t)"}]}, "mark": {"type": "text", "color": "#ff0000"},
     "encoding": {"x": {"field": "t", "type": "quantitative"}, "y": {"field": "v", "type": "quantitative"}, "text": {"field": "label"}}}
   ]
  }
 ]
}
